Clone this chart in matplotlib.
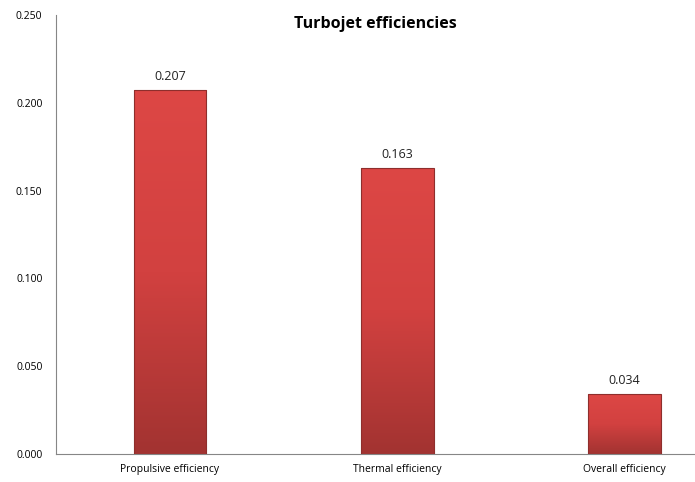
import matplotlib

matplotlib.use("Agg")
import matplotlib.pyplot as plt
import numpy as np
from matplotlib.colors import LinearSegmentedColormap

categories = ["Propulsive efficiency", "Thermal efficiency", "Overall efficiency"]
values = [0.207, 0.163, 0.034]
labels = ["0.207", "0.163", "0.034"]
yticks = [0.000, 0.050, 0.100, 0.150, 0.200, 0.250]

plt.rcParams["font.family"] = ["Open Sans", "DejaVu Sans"]

fig = plt.figure(figsize=(6.95, 4.82), dpi=100)
ax = fig.add_axes([0.081, 0.058, 0.919, 0.911])

x = np.arange(len(categories))
width = 0.32
bars = ax.bar(x, values, width=width, color="none", edgecolor="#8e2e2c", linewidth=0.8, zorder=3)

# vertical shading, darker at the bottom
cmap = LinearSegmentedColormap.from_list("redgrad", ["#a23331", "#d24140", "#dd4745"], N=512)
grad = np.linspace(0, 1, 512).reshape(-1, 1)
for b in bars:
    x0, y0 = b.get_x(), b.get_y()
    w, h = b.get_width(), b.get_height()
    im = ax.imshow(grad, cmap=cmap, origin="lower", aspect="auto", interpolation="bilinear",
                   extent=[x0, x0 + w, y0, y0 + h], zorder=2)
    im.set_clip_path(b)

for xi, v, lab in zip(x, values, labels):
    ax.text(xi, v + 0.004, lab, ha="center", va="bottom", fontsize=9, color="#222222")

ax.set_xlim(-0.5, 2.31)
ax.set_ylim(0, 0.25)
ax.set_xticks(x)
ax.set_xticklabels(categories, fontsize=7.5)
ax.set_yticks(yticks)
ax.set_yticklabels([f"{t:.3f}" for t in yticks], fontsize=7.5)
ax.tick_params(axis="y", length=0, pad=10)
ax.tick_params(axis="x", length=0, pad=7)
for s in ["top", "right"]:
    ax.spines[s].set_visible(False)
ax.spines["left"].set_color("#868686")
ax.spines["bottom"].set_color("#868686")

fig.text(0.54, 0.95, "Turbojet efficiencies", ha="center", va="center",
         fontsize=11.5, fontweight="bold")

fig.savefig("out.png", dpi=100, facecolor="white")
